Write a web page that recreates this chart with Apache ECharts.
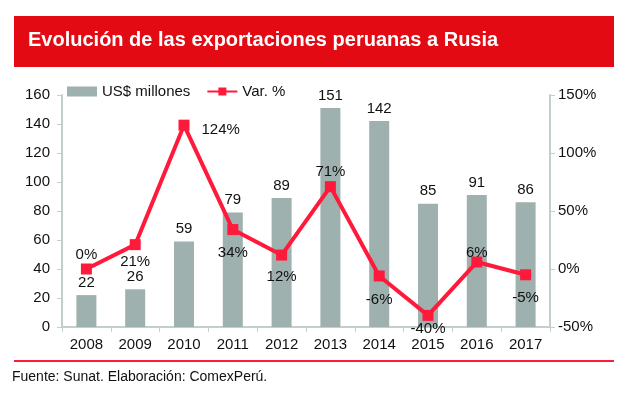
<!DOCTYPE html>
<html>
<head>
<meta charset="utf-8">
<script src="https://cdn.jsdelivr.net/npm/echarts@6/dist/echarts.min.js"></script>
<style>
  html, body { margin: 0; padding: 0; background: #fff; }
  #chart { width: 630px; height: 398px; }
</style>
</head>
<body>
<div id="chart"></div>
<script>
var years = ['2008', '2009', '2010', '2011', '2012', '2013', '2014', '2015', '2016', '2017'];
var exportsUsd = [22, 26, 59, 79, 89, 151, 142, 85, 91, 86];
var varPct = [0, 21, 124, 34, 12, 71, -6, -40, 6, -5];

// where each % label sits relative to its point
var pctLabelPos = ['top', 'bottom', 'right', 'bottom', 'bottom', 'top', 'bottom', 'bottom', 'top', 'bottom'];
var pctLabelDist = [1, 4, 12, 10, 9, 2, 11, 0, -4, 10];

var FONT = "'Liberation Sans Narrow', 'Liberation Sans', Arial, sans-serif";
var RED = '#ff1a3c';
var GREY = '#9eb1ae';
var AXIS = '#c3cfcd';

var chart = echarts.init(document.getElementById('chart'));

var lineData = [];
for (var i = 0; i < varPct.length; i++) {
  lineData.push({
    value: varPct[i],
    label: {
      position: pctLabelPos[i],
      distance: pctLabelDist[i],
      offset: pctLabelPos[i] == 'right' ? [0, 5] : [0, 0]
    }
  });
}

chart.setOption({
  animation: false,
  textStyle: { fontFamily: FONT },
  graphic: [
    { type: 'rect', left: 14, top: 16, shape: { width: 600, height: 51 }, style: { fill: '#e30a13' } },
    { type: 'text', left: 28, top: 30, style: { text: 'Evolución de las exportaciones peruanas a Rusia', fill: '#fff', font: "bold 20px 'Liberation Sans', Arial, sans-serif" } },
    { type: 'rect', left: 14, top: 360, shape: { width: 600, height: 2 }, style: { fill: RED } },
    { type: 'text', left: 12, top: 370, style: { text: 'Fuente: Sunat. Elaboración: ComexPerú.', fill: '#111', font: "14px " + FONT } }
  ],
  legend: {
    left: 62, top: 79,
    itemGap: 16,
    itemWidth: 30, itemHeight: 10,
    textStyle: { fontSize: 15, color: '#111', fontFamily: FONT },
    data: [
      { name: 'US$ millones', icon: 'rect' },
      { name: 'Var. %' }
    ]
  },
  grid: { left: 62, right: 80, top: 95, bottom: 71 },
  xAxis: {
    type: 'category',
    data: years,
    axisLine: { lineStyle: { color: AXIS, width: 2 } },
    axisTick: { show: true, length: 5, lineStyle: { color: AXIS } },
    axisLabel: { color: '#111', fontSize: 15, margin: 10, fontFamily: FONT }
  },
  yAxis: [
    {
      type: 'value', min: 0, max: 160, interval: 20,
      axisLine: { show: true, lineStyle: { color: AXIS, width: 2 } },
      axisTick: { show: true, length: 5, lineStyle: { color: AXIS } },
      splitLine: { show: false },
      axisLabel: { color: '#111', fontSize: 15, margin: 12, fontFamily: FONT }
    },
    {
      type: 'value', min: -50, max: 150, interval: 50,
      axisLine: { show: true, lineStyle: { color: AXIS, width: 2 } },
      axisTick: { show: true, length: 5, lineStyle: { color: AXIS } },
      splitLine: { show: false },
      axisLabel: { color: '#111', fontSize: 15, margin: 8, formatter: '{value}%', fontFamily: FONT }
    }
  ],
  series: [
    {
      name: 'US$ millones',
      type: 'bar',
      data: exportsUsd,
      barWidth: 20,
      itemStyle: { color: GREY },
      label: { show: true, position: 'top', distance: 5, color: '#111', fontSize: 15, fontFamily: FONT }
    },
    {
      name: 'Var. %',
      type: 'line',
      yAxisIndex: 1,
      data: lineData,
      symbol: 'rect',
      symbolSize: 11,
      lineStyle: { color: RED, width: 4 },
      itemStyle: { color: RED },
      label: { show: true, color: '#111', fontSize: 15, fontFamily: FONT, formatter: '{c}%' },
      z: 5
    }
  ]
});
</script>
</body>
</html>
